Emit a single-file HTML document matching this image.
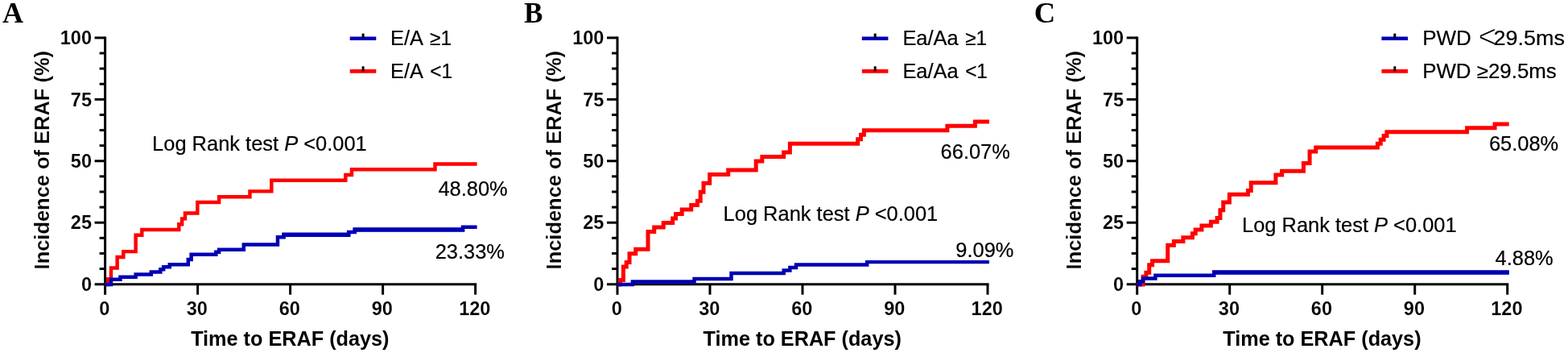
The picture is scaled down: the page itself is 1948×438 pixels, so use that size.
<!DOCTYPE html>
<html lang="en"><head><meta charset="utf-8"><title>Incidence of ERAF</title>
<style>html,body{margin:0;padding:0;background:#fff;overflow:hidden}body{width:1948px;height:438px}</style></head>
<body>
<svg width="1948" height="438" viewBox="0 0 1948 438" style="display:block">
<rect width="1948" height="438" fill="#fff"/>
<g id="panelA">
<g stroke="#000" stroke-width="3.0" fill="none">
<path d="M130.60 45.40 V365.65"/>
<path d="M117.60 352.65 H592.10"/>
<path d="M123.60 333.54 H130.60" stroke-width="3.0"/>
<path d="M123.60 314.43 H130.60" stroke-width="3.0"/>
<path d="M123.60 295.32 H130.60" stroke-width="3.0"/>
<path d="M117.60 276.21 H130.60" stroke-width="3.0"/>
<path d="M123.60 257.10 H130.60" stroke-width="3.0"/>
<path d="M123.60 237.99 H130.60" stroke-width="3.0"/>
<path d="M123.60 218.88 H130.60" stroke-width="3.0"/>
<path d="M117.60 199.77 H130.60" stroke-width="3.0"/>
<path d="M123.60 180.67 H130.60" stroke-width="3.0"/>
<path d="M123.60 161.56 H130.60" stroke-width="3.0"/>
<path d="M123.60 142.45 H130.60" stroke-width="3.0"/>
<path d="M117.60 123.34 H130.60" stroke-width="3.0"/>
<path d="M123.60 104.23 H130.60" stroke-width="3.0"/>
<path d="M123.60 85.12 H130.60" stroke-width="3.0"/>
<path d="M123.60 66.01 H130.60" stroke-width="3.0"/>
<path d="M117.60 46.90 H130.60" stroke-width="3.0"/>
<path d="M245.60 352.65 V365.65" stroke-width="3.0"/>
<path d="M360.60 352.65 V365.65" stroke-width="3.0"/>
<path d="M475.60 352.65 V365.65" stroke-width="3.0"/>
<path d="M590.60 352.65 V365.65" stroke-width="3.0"/>
</g>
<text transform="translate(114.00 360.85) scale(0.96 1)" font-family="'Liberation Sans', sans-serif" font-size="24.5" font-weight="bold" stroke="#fff" stroke-width="0.1" text-anchor="end" fill="#000">0</text>
<text transform="translate(114.00 284.41) scale(0.96 1)" font-family="'Liberation Sans', sans-serif" font-size="24.5" font-weight="bold" stroke="#fff" stroke-width="0.1" text-anchor="end" fill="#000">25</text>
<text transform="translate(114.00 207.97) scale(0.96 1)" font-family="'Liberation Sans', sans-serif" font-size="24.5" font-weight="bold" stroke="#fff" stroke-width="0.1" text-anchor="end" fill="#000">50</text>
<text transform="translate(114.00 131.54) scale(0.96 1)" font-family="'Liberation Sans', sans-serif" font-size="24.5" font-weight="bold" stroke="#fff" stroke-width="0.1" text-anchor="end" fill="#000">75</text>
<text transform="translate(114.00 55.10) scale(0.96 1)" font-family="'Liberation Sans', sans-serif" font-size="24.5" font-weight="bold" stroke="#fff" stroke-width="0.1" text-anchor="end" fill="#000">100</text>
<text transform="translate(129.80 391.35) scale(0.96 1)" font-family="'Liberation Sans', sans-serif" font-size="24.5" font-weight="bold" stroke="#fff" stroke-width="0.1" text-anchor="middle" fill="#000">0</text>
<text transform="translate(244.80 391.35) scale(0.96 1)" font-family="'Liberation Sans', sans-serif" font-size="24.5" font-weight="bold" stroke="#fff" stroke-width="0.1" text-anchor="middle" fill="#000">30</text>
<text transform="translate(359.80 391.35) scale(0.96 1)" font-family="'Liberation Sans', sans-serif" font-size="24.5" font-weight="bold" stroke="#fff" stroke-width="0.1" text-anchor="middle" fill="#000">60</text>
<text transform="translate(474.80 391.35) scale(0.96 1)" font-family="'Liberation Sans', sans-serif" font-size="24.5" font-weight="bold" stroke="#fff" stroke-width="0.1" text-anchor="middle" fill="#000">90</text>
<text transform="translate(589.80 391.35) scale(0.96 1)" font-family="'Liberation Sans', sans-serif" font-size="24.5" font-weight="bold" stroke="#fff" stroke-width="0.1" text-anchor="middle" fill="#000">120</text>
<text transform="translate(360.30 429.00) scale(1.01 1)" font-family="'Liberation Sans', sans-serif" font-size="25.0" font-weight="bold" text-anchor="middle" fill="#000">Time to ERAF (days)</text>
<text transform="translate(60.80 198.70) rotate(-90) scale(0.979 1)" font-family="'Liberation Sans', sans-serif" font-size="26.0" font-weight="bold" stroke="#fff" stroke-width="0.15" text-anchor="middle" fill="#000">Incidence of ERAF (%)</text>
<text transform="translate(3.00 27.70)" font-family="'Liberation Serif', serif" font-size="36" font-weight="bold" text-anchor="start" fill="#000">A</text>
<path d="M434.70 47.70 h32.6" stroke="#0000b4" stroke-width="4.6" fill="none"/>
<path d="M451.10 41.60 v6.1" stroke="#000" stroke-width="3" fill="none"/>
<text transform="translate(485.00 56.10) scale(1.016 1)" font-family="'Liberation Sans', sans-serif" font-size="25.0" stroke="#000" stroke-width="0.2" fill="#000">E/A</text>
<text transform="translate(534.07 56.10) scale(0.975 1)" font-family="'Liberation Sans', sans-serif" font-size="25.0" stroke="#000" stroke-width="0.2" fill="#000">≥1</text>
<path d="M434.70 88.40 h32.6" stroke="#ff0000" stroke-width="4.6" fill="none"/>
<path d="M451.10 82.30 v6.1" stroke="#000" stroke-width="3" fill="none"/>
<text transform="translate(485.00 96.80) scale(1.016 1)" font-family="'Liberation Sans', sans-serif" font-size="25.0" stroke="#000" stroke-width="0.2" fill="#000">E/A</text>
<text transform="translate(534.27 96.80) scale(0.975 1)" font-family="'Liberation Sans', sans-serif" font-size="25.0" stroke="#000" stroke-width="0.2" fill="#000">&lt;1</text>
<text transform="translate(189.10 187.30) scale(1.018 1)" font-family="'Liberation Sans', sans-serif" font-size="25.0" stroke="#000" stroke-width="0.2" text-anchor="start" fill="#000">Log Rank test <tspan font-style="italic">P</tspan> &lt;0.001</text>
<text transform="translate(544.40 243.00) scale(1.018 1)" font-family="'Liberation Sans', sans-serif" font-size="25.0" stroke="#000" stroke-width="0.2" text-anchor="start" fill="#000">48.80%</text>
<text transform="translate(540.70 321.00) scale(1.018 1)" font-family="'Liberation Sans', sans-serif" font-size="25.0" stroke="#000" stroke-width="0.2" text-anchor="start" fill="#000">23.33%</text>
<path d="M130.30 352.90 H134.13 V346.11 H137.97 V332.52 H145.63 V318.93 H153.30 V312.13 H168.63 V291.75 H176.30 V284.96 H222.30 V278.16 H226.13 V271.37 H229.97 V264.57 H245.30 V250.98 H272.13 V244.19 H310.47 V237.39 H337.30 V223.81 H429.30 V217.01 H436.97 V210.22 H540.47 V203.42 H592.60" stroke="#ff0000" stroke-width="4.45" fill="none" stroke-linejoin="miter"/>
<path d="M130.30 352.90 H137.97 V346.72 H149.47 V343.63 H168.63 V340.55 H187.80 V337.46 H199.30 V334.37 H203.13 V331.28 H210.80 V328.19 H233.80 V322.02 H237.63 V315.84 H268.30 V312.75 H272.13 V309.66 H302.80 V303.49 H344.97 V294.22 H352.63 V291.13 H433.13 V288.04 H440.80 V284.96 H574.97 V281.87 H592.60" stroke="#0000b4" stroke-width="4.5" fill="none" stroke-linejoin="miter"/>
<path d="M350.38 291.13 H435.38" stroke="#0000b4" stroke-width="5.5" fill="none"/>
<path d="M438.55 284.96 H577.22" stroke="#0000b4" stroke-width="5.6" fill="none"/>
</g>
<g id="panelB">
<g stroke="#000" stroke-width="3.0" fill="none">
<path d="M767.00 45.40 V365.65"/>
<path d="M754.00 352.65 H1228.50"/>
<path d="M760.00 333.54 H767.00" stroke-width="3.0"/>
<path d="M760.00 314.43 H767.00" stroke-width="3.0"/>
<path d="M760.00 295.32 H767.00" stroke-width="3.0"/>
<path d="M754.00 276.21 H767.00" stroke-width="3.0"/>
<path d="M760.00 257.10 H767.00" stroke-width="3.0"/>
<path d="M760.00 237.99 H767.00" stroke-width="3.0"/>
<path d="M760.00 218.88 H767.00" stroke-width="3.0"/>
<path d="M754.00 199.77 H767.00" stroke-width="3.0"/>
<path d="M760.00 180.67 H767.00" stroke-width="3.0"/>
<path d="M760.00 161.56 H767.00" stroke-width="3.0"/>
<path d="M760.00 142.45 H767.00" stroke-width="3.0"/>
<path d="M754.00 123.34 H767.00" stroke-width="3.0"/>
<path d="M760.00 104.23 H767.00" stroke-width="3.0"/>
<path d="M760.00 85.12 H767.00" stroke-width="3.0"/>
<path d="M760.00 66.01 H767.00" stroke-width="3.0"/>
<path d="M754.00 46.90 H767.00" stroke-width="3.0"/>
<path d="M882.00 352.65 V365.65" stroke-width="3.0"/>
<path d="M997.00 352.65 V365.65" stroke-width="3.0"/>
<path d="M1112.00 352.65 V365.65" stroke-width="3.0"/>
<path d="M1227.00 352.65 V365.65" stroke-width="3.0"/>
</g>
<text transform="translate(750.40 360.85) scale(0.96 1)" font-family="'Liberation Sans', sans-serif" font-size="24.5" font-weight="bold" stroke="#fff" stroke-width="0.1" text-anchor="end" fill="#000">0</text>
<text transform="translate(750.40 284.41) scale(0.96 1)" font-family="'Liberation Sans', sans-serif" font-size="24.5" font-weight="bold" stroke="#fff" stroke-width="0.1" text-anchor="end" fill="#000">25</text>
<text transform="translate(750.40 207.97) scale(0.96 1)" font-family="'Liberation Sans', sans-serif" font-size="24.5" font-weight="bold" stroke="#fff" stroke-width="0.1" text-anchor="end" fill="#000">50</text>
<text transform="translate(750.40 131.54) scale(0.96 1)" font-family="'Liberation Sans', sans-serif" font-size="24.5" font-weight="bold" stroke="#fff" stroke-width="0.1" text-anchor="end" fill="#000">75</text>
<text transform="translate(750.40 55.10) scale(0.96 1)" font-family="'Liberation Sans', sans-serif" font-size="24.5" font-weight="bold" stroke="#fff" stroke-width="0.1" text-anchor="end" fill="#000">100</text>
<text transform="translate(766.20 391.35) scale(0.96 1)" font-family="'Liberation Sans', sans-serif" font-size="24.5" font-weight="bold" stroke="#fff" stroke-width="0.1" text-anchor="middle" fill="#000">0</text>
<text transform="translate(881.20 391.35) scale(0.96 1)" font-family="'Liberation Sans', sans-serif" font-size="24.5" font-weight="bold" stroke="#fff" stroke-width="0.1" text-anchor="middle" fill="#000">30</text>
<text transform="translate(996.20 391.35) scale(0.96 1)" font-family="'Liberation Sans', sans-serif" font-size="24.5" font-weight="bold" stroke="#fff" stroke-width="0.1" text-anchor="middle" fill="#000">60</text>
<text transform="translate(1111.20 391.35) scale(0.96 1)" font-family="'Liberation Sans', sans-serif" font-size="24.5" font-weight="bold" stroke="#fff" stroke-width="0.1" text-anchor="middle" fill="#000">90</text>
<text transform="translate(1226.20 391.35) scale(0.96 1)" font-family="'Liberation Sans', sans-serif" font-size="24.5" font-weight="bold" stroke="#fff" stroke-width="0.1" text-anchor="middle" fill="#000">120</text>
<text transform="translate(996.70 429.00) scale(1.01 1)" font-family="'Liberation Sans', sans-serif" font-size="25.0" font-weight="bold" text-anchor="middle" fill="#000">Time to ERAF (days)</text>
<text transform="translate(697.20 198.70) rotate(-90) scale(0.979 1)" font-family="'Liberation Sans', sans-serif" font-size="26.0" font-weight="bold" stroke="#fff" stroke-width="0.15" text-anchor="middle" fill="#000">Incidence of ERAF (%)</text>
<text transform="translate(651.00 27.70)" font-family="'Liberation Serif', serif" font-size="35" font-weight="bold" text-anchor="start" fill="#000">B</text>
<path d="M1070.80 47.70 h32.6" stroke="#0000b4" stroke-width="4.6" fill="none"/>
<path d="M1087.20 41.60 v6.1" stroke="#000" stroke-width="3" fill="none"/>
<text transform="translate(1121.40 56.10) scale(1.016 1)" font-family="'Liberation Sans', sans-serif" font-size="25.0" stroke="#000" stroke-width="0.2" fill="#000">Ea/Aa</text>
<text transform="translate(1199.13 56.10) scale(0.975 1)" font-family="'Liberation Sans', sans-serif" font-size="25.0" stroke="#000" stroke-width="0.2" fill="#000">≥1</text>
<path d="M1070.80 88.40 h32.6" stroke="#ff0000" stroke-width="4.6" fill="none"/>
<path d="M1087.20 82.30 v6.1" stroke="#000" stroke-width="3" fill="none"/>
<text transform="translate(1121.40 96.80) scale(1.016 1)" font-family="'Liberation Sans', sans-serif" font-size="25.0" stroke="#000" stroke-width="0.2" fill="#000">Ea/Aa</text>
<text transform="translate(1199.13 96.80) scale(0.975 1)" font-family="'Liberation Sans', sans-serif" font-size="25.0" stroke="#000" stroke-width="0.2" fill="#000">&lt;1</text>
<text transform="translate(898.60 273.90) scale(1.018 1)" font-family="'Liberation Sans', sans-serif" font-size="25.0" stroke="#000" stroke-width="0.2" text-anchor="start" fill="#000">Log Rank test <tspan font-style="italic">P</tspan> &lt;0.001</text>
<text transform="translate(1168.60 197.20) scale(1.018 1)" font-family="'Liberation Sans', sans-serif" font-size="25.0" stroke="#000" stroke-width="0.2" text-anchor="start" fill="#000">66.07%</text>
<text transform="translate(1187.30 318.50) scale(1.018 1)" font-family="'Liberation Sans', sans-serif" font-size="25.0" stroke="#000" stroke-width="0.2" text-anchor="start" fill="#000">9.09%</text>
<path d="M766.70 352.90 H770.53 V347.44 H774.37 V331.06 H778.20 V325.60 H782.03 V314.68 H789.70 V309.22 H805.03 V287.38 H812.70 V281.92 H824.20 V276.46 H835.70 V271.00 H839.53 V265.54 H847.20 V260.08 H858.70 V254.62 H866.37 V249.16 H870.20 V238.24 H874.03 V227.32 H881.70 V216.40 H904.70 V210.94 H939.20 V200.02 H946.87 V194.57 H973.70 V189.11 H981.37 V178.19 H1065.70 V172.73 H1069.53 V167.27 H1073.37 V161.81 H1176.87 V156.35 H1211.37 V150.89 H1229.00" stroke="#ff0000" stroke-width="5.0" fill="none" stroke-linejoin="miter"/>
<path d="M766.70 352.90 H785.87 V349.43 H862.53 V345.95 H908.53 V339.00 H973.70 V335.53 H981.37 V332.05 H989.03 V328.58 H1077.20 V325.10 H1229.00" stroke="#0000b4" stroke-width="4.45" fill="none" stroke-linejoin="miter"/>
</g>
<g id="panelC">
<g stroke="#000" stroke-width="3.0" fill="none">
<path d="M1412.70 45.40 V365.65"/>
<path d="M1399.70 352.65 H1874.20"/>
<path d="M1405.70 333.54 H1412.70" stroke-width="3.0"/>
<path d="M1405.70 314.43 H1412.70" stroke-width="3.0"/>
<path d="M1405.70 295.32 H1412.70" stroke-width="3.0"/>
<path d="M1399.70 276.21 H1412.70" stroke-width="3.0"/>
<path d="M1405.70 257.10 H1412.70" stroke-width="3.0"/>
<path d="M1405.70 237.99 H1412.70" stroke-width="3.0"/>
<path d="M1405.70 218.88 H1412.70" stroke-width="3.0"/>
<path d="M1399.70 199.77 H1412.70" stroke-width="3.0"/>
<path d="M1405.70 180.67 H1412.70" stroke-width="3.0"/>
<path d="M1405.70 161.56 H1412.70" stroke-width="3.0"/>
<path d="M1405.70 142.45 H1412.70" stroke-width="3.0"/>
<path d="M1399.70 123.34 H1412.70" stroke-width="3.0"/>
<path d="M1405.70 104.23 H1412.70" stroke-width="3.0"/>
<path d="M1405.70 85.12 H1412.70" stroke-width="3.0"/>
<path d="M1405.70 66.01 H1412.70" stroke-width="3.0"/>
<path d="M1399.70 46.90 H1412.70" stroke-width="3.0"/>
<path d="M1527.70 352.65 V365.65" stroke-width="3.0"/>
<path d="M1642.70 352.65 V365.65" stroke-width="3.0"/>
<path d="M1757.70 352.65 V365.65" stroke-width="3.0"/>
<path d="M1872.70 352.65 V365.65" stroke-width="3.0"/>
</g>
<text transform="translate(1396.10 360.85) scale(0.96 1)" font-family="'Liberation Sans', sans-serif" font-size="24.5" font-weight="bold" stroke="#fff" stroke-width="0.1" text-anchor="end" fill="#000">0</text>
<text transform="translate(1396.10 284.41) scale(0.96 1)" font-family="'Liberation Sans', sans-serif" font-size="24.5" font-weight="bold" stroke="#fff" stroke-width="0.1" text-anchor="end" fill="#000">25</text>
<text transform="translate(1396.10 207.97) scale(0.96 1)" font-family="'Liberation Sans', sans-serif" font-size="24.5" font-weight="bold" stroke="#fff" stroke-width="0.1" text-anchor="end" fill="#000">50</text>
<text transform="translate(1396.10 131.54) scale(0.96 1)" font-family="'Liberation Sans', sans-serif" font-size="24.5" font-weight="bold" stroke="#fff" stroke-width="0.1" text-anchor="end" fill="#000">75</text>
<text transform="translate(1396.10 55.10) scale(0.96 1)" font-family="'Liberation Sans', sans-serif" font-size="24.5" font-weight="bold" stroke="#fff" stroke-width="0.1" text-anchor="end" fill="#000">100</text>
<text transform="translate(1411.90 391.35) scale(0.96 1)" font-family="'Liberation Sans', sans-serif" font-size="24.5" font-weight="bold" stroke="#fff" stroke-width="0.1" text-anchor="middle" fill="#000">0</text>
<text transform="translate(1526.90 391.35) scale(0.96 1)" font-family="'Liberation Sans', sans-serif" font-size="24.5" font-weight="bold" stroke="#fff" stroke-width="0.1" text-anchor="middle" fill="#000">30</text>
<text transform="translate(1641.90 391.35) scale(0.96 1)" font-family="'Liberation Sans', sans-serif" font-size="24.5" font-weight="bold" stroke="#fff" stroke-width="0.1" text-anchor="middle" fill="#000">60</text>
<text transform="translate(1756.90 391.35) scale(0.96 1)" font-family="'Liberation Sans', sans-serif" font-size="24.5" font-weight="bold" stroke="#fff" stroke-width="0.1" text-anchor="middle" fill="#000">90</text>
<text transform="translate(1871.90 391.35) scale(0.96 1)" font-family="'Liberation Sans', sans-serif" font-size="24.5" font-weight="bold" stroke="#fff" stroke-width="0.1" text-anchor="middle" fill="#000">120</text>
<text transform="translate(1642.40 429.00) scale(1.01 1)" font-family="'Liberation Sans', sans-serif" font-size="25.0" font-weight="bold" text-anchor="middle" fill="#000">Time to ERAF (days)</text>
<text transform="translate(1342.90 198.70) rotate(-90) scale(0.979 1)" font-family="'Liberation Sans', sans-serif" font-size="26.0" font-weight="bold" stroke="#fff" stroke-width="0.15" text-anchor="middle" fill="#000">Incidence of ERAF (%)</text>
<text transform="translate(1284.80 27.70)" font-family="'Liberation Serif', serif" font-size="36.6" font-weight="bold" text-anchor="start" fill="#000">C</text>
<path d="M1716.40 47.70 h32.6" stroke="#0000b4" stroke-width="4.6" fill="none"/>
<path d="M1732.80 41.60 v6.1" stroke="#000" stroke-width="3" fill="none"/>
<text transform="translate(1767.20 56.10) scale(1.04 1)" font-family="'Liberation Sans', sans-serif" font-size="25.0" stroke="#000" stroke-width="0.2" fill="#000">PWD</text>
<text transform="translate(1836.50 59.00) scale(0.96 1)" font-family="'Liberation Sans', sans-serif" font-size="40.4" stroke="#fff" stroke-width="1.0" fill="#000">&lt;</text>
<text transform="translate(1855.45 56.10) scale(1.079 1)" font-family="'Liberation Sans', sans-serif" font-size="25.0" stroke="#000" stroke-width="0.2" fill="#000">29.5ms</text>
<path d="M1716.40 88.40 h32.6" stroke="#ff0000" stroke-width="4.6" fill="none"/>
<path d="M1732.80 82.30 v6.1" stroke="#000" stroke-width="3" fill="none"/>
<text transform="translate(1767.20 96.80) scale(1.035 1)" font-family="'Liberation Sans', sans-serif" font-size="25.0" stroke="#000" stroke-width="0.2" text-anchor="start" fill="#000">PWD ≥29.5ms</text>
<text transform="translate(1543.00 288.00) scale(1.018 1)" font-family="'Liberation Sans', sans-serif" font-size="25.0" stroke="#000" stroke-width="0.2" text-anchor="start" fill="#000">Log Rank test <tspan font-style="italic">P</tspan> &lt;0.001</text>
<text transform="translate(1849.90 186.50) scale(1.018 1)" font-family="'Liberation Sans', sans-serif" font-size="25.0" stroke="#000" stroke-width="0.2" text-anchor="start" fill="#000">65.08%</text>
<text transform="translate(1857.60 329.10) scale(1.018 1)" font-family="'Liberation Sans', sans-serif" font-size="25.0" stroke="#000" stroke-width="0.2" text-anchor="start" fill="#000">4.88%</text>
<path d="M1412.40 352.90 H1420.07 V343.19 H1423.90 V338.34 H1427.73 V328.63 H1431.57 V323.78 H1450.73 V304.37 H1458.40 V299.52 H1469.90 V294.66 H1481.40 V289.81 H1485.23 V284.96 H1492.90 V280.10 H1504.40 V275.25 H1512.07 V270.40 H1515.90 V260.69 H1519.73 V250.98 H1527.40 V241.28 H1550.40 V236.42 H1554.23 V226.72 H1584.90 V217.01 H1592.57 V212.16 H1619.40 V202.45 H1627.07 V187.89 H1634.73 V183.04 H1711.40 V178.19 H1715.23 V173.33 H1719.07 V168.48 H1722.90 V163.63 H1822.57 V158.77 H1857.07 V153.92 H1874.70" stroke="#ff0000" stroke-width="5.0" fill="none" stroke-linejoin="miter"/>
<path d="M1412.40 352.90 H1416.23 V349.17 H1420.07 V345.44 H1435.40 V341.71 H1508.23 V337.99 H1874.70" stroke="#0000b4" stroke-width="4.5" fill="none" stroke-linejoin="miter"/>
<path d="M1505.98 337.99 H1874.70" stroke="#0000b4" stroke-width="5.6" fill="none"/>
</g>
</svg>
</body></html>
